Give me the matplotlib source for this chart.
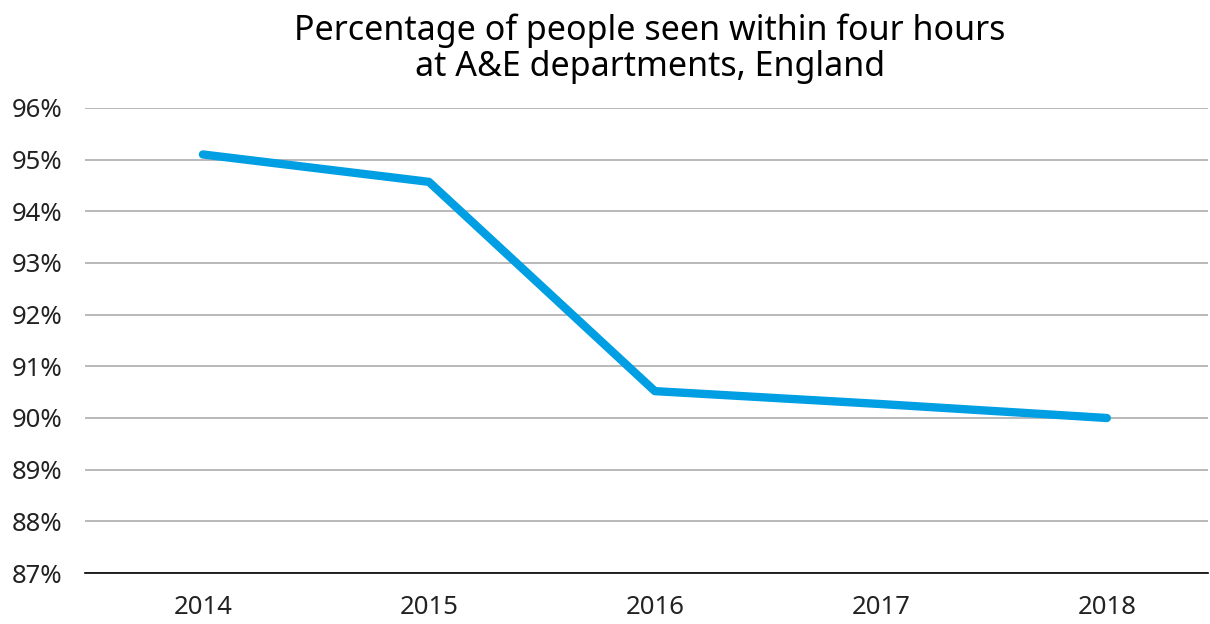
import numpy as np
import matplotlib
matplotlib.use("Agg")
import matplotlib.pyplot as plt
from matplotlib.ticker import FuncFormatter

years = ["2014", "2015", "2016", "2017", "2018"]
pct_seen = [95.1, 94.57, 90.52, 90.27, 90.0]
yticks = [87, 88, 89, 90, 91, 92, 93, 94, 95, 96]

plt.rcParams["font.family"] = ["Noto Sans", "DejaVu Sans"]
fig = plt.figure(figsize=(12.1, 6.24), dpi=100)
ax = fig.add_axes([0.0702, 0.0817, 0.928, 0.7453])

x = np.arange(len(years))
ax.plot(x, pct_seen, color="#009FE3", lw=6, solid_capstyle="round", zorder=3)

ax.set_ylim(87, 96)
ax.set_xlim(-0.522, 4.447)
ax.set_yticks(yticks)
ax.yaxis.set_major_formatter(FuncFormatter(lambda v, _: f"{v:.0f}%"))
ax.set_xticks(x)
ax.set_xticklabels(years)
ax.grid(axis="y", color="#A6A6A6", lw=1.1)
ax.set_axisbelow(True)
for s in ["left", "right", "top"]:
    ax.spines[s].set_visible(False)
ax.spines["bottom"].set_color("black")
ax.spines["bottom"].set_linewidth(1.2)
ax.tick_params(axis="both", length=0, labelsize=18.5, colors="#222222")
ax.tick_params(axis="x", pad=16)
ax.tick_params(axis="y", pad=16)

fig.text(0.537, 0.978, "Percentage of people seen within four hours\nat A&E departments, England",
         ha="center", va="top", fontsize=24.5, fontweight="medium", linespacing=1.08, color="black")

fig.savefig("out.png", dpi=100)
